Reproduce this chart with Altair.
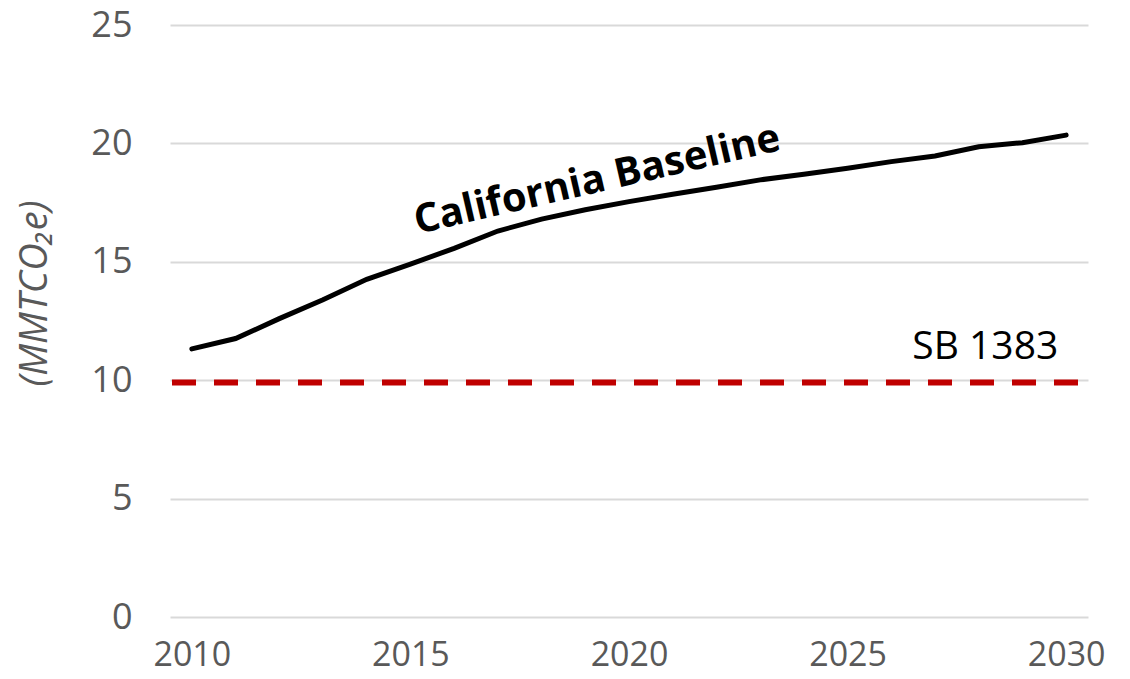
import altair as alt
import pandas as pd

# Series values
years = list(range(2010, 2031))
baseline = [11.32, 11.76, 12.6, 13.4, 14.26, 14.9, 15.57, 16.3, 16.8, 17.2,
            17.54, 17.85, 18.15, 18.46, 18.7, 18.95, 19.23, 19.47, 19.86, 20.03, 20.35]
sb1383_target = [9.9]

x_ticks = [2010, 2015, 2020, 2025, 2030]
y_ticks = [0, 5, 10, 15, 20, 25]

FONT = "Open Sans"
GREY = "#595959"

df = pd.DataFrame({"year": years, "value": baseline})
df_target = pd.DataFrame({"value": sb1383_target})

x_scale = alt.Scale(domain=[2009.5, 2030.5], nice=False, zero=False)
y_scale = alt.Scale(domain=[0, 25], nice=False)

x_axis = alt.Axis(values=x_ticks, format="d", grid=False, domain=False, ticks=False,
                  labelFont=FONT, labelFontSize=34, labelColor=GREY, labelPadding=21,
                  title=None)
y_axis = alt.Axis(values=y_ticks, grid=True, gridColor="#d9d9d9", gridWidth=2,
                  domain=False, ticks=False, labelFont=FONT, labelFontSize=36,
                  labelColor=GREY, labelPadding=38,
                  title="(MMTCO₂e)", titleFont=FONT, titleFontSize=38,
                  titleFontStyle="italic", titleFontWeight="normal", titleColor=GREY,
                  titleAngle=270, titleX=-135, titleY=268, titleAlign="center",
                  titleBaseline="middle")

line = alt.Chart(df).mark_line(color="black", strokeWidth=5, strokeCap="round").encode(
    x=alt.X("year:Q", scale=x_scale, axis=x_axis),
    y=alt.Y("value:Q", scale=y_scale, axis=y_axis),
)

target = alt.Chart(df_target).mark_rule(color="#C00000", strokeWidth=6,
                                        strokeDash=[24, 18]).encode(
    x=alt.value(2),
    x2=alt.value(910),
    y=alt.Y("value:Q", scale=y_scale),
)

one_row = alt.Data(values=[{}])

baseline_label = alt.Chart(one_row).mark_text(
    font=FONT, fontSize=40, fontWeight="bold", color="black", angle=347,
    align="center", baseline="middle"
).encode(
    x=alt.datum(2019.27), y=alt.datum(18.45), text=alt.value("California Baseline")
)

target_label = alt.Chart(one_row).mark_text(
    font=FONT, fontSize=39, color="black", align="center", baseline="middle"
).encode(
    x=alt.datum(2028.15), y=alt.datum(11.4), text=alt.value("SB 1383")
)

chart = alt.layer(line, target, baseline_label, target_label).properties(
    width=918, height=592,
    padding={"left": 170, "top": 25, "right": 42, "bottom": 62},
    autosize="none",
    background="white",
).configure_view(stroke="transparent", strokeWidth=0)

chart.save("out.html", embed_options={"renderer": "svg", "actions": False})
